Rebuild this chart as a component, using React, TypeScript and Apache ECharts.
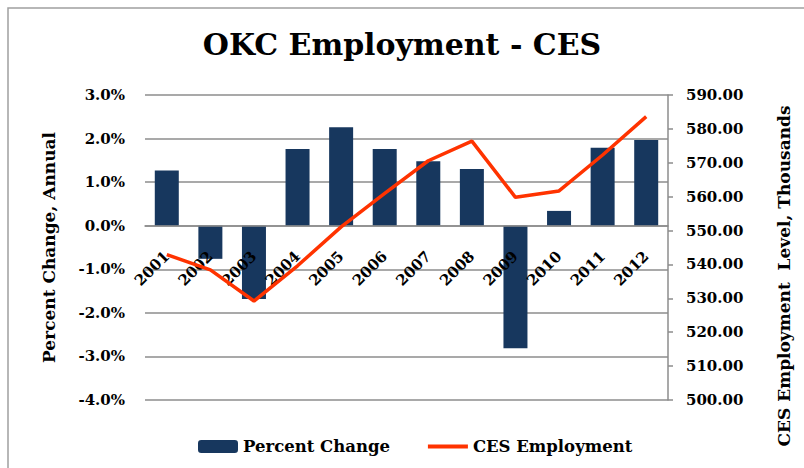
import React, { useEffect, useRef } from "react";
import * as echarts from "echarts";

const years = ["2001", "2002", "2003", "2004", "2005", "2006", "2007", "2008", "2009", "2010", "2011", "2012"];
const percentChange = [1.27, -0.76, -1.68, 1.76, 2.26, 1.76, 1.48, 1.3, -2.81, 0.34, 1.79, 1.97];
const cesEmployment = [542.9, 538.4, 529.2, 539.6, 551.1, 561.0, 570.6, 576.4, 559.8, 561.7, 572.3, 583.6];

const FONT = "DejaVu Serif";
const GRID_TOP = 95;
const GRID_BOTTOM = 68;
const PCT_MIN = -4;
const PCT_MAX = 3;

export default function App() {
  const ref = useRef<HTMLDivElement>(null);
  useEffect(() => {
    if (!ref.current) return;
    const chart = echarts.init(ref.current, null, { renderer: "svg" });
    const plotH = 468 - GRID_TOP - GRID_BOTTOM;
    const zeroOffset = -plotH * (0 - PCT_MIN) / (PCT_MAX - PCT_MIN);
    chart.setOption({
      animation: false,
      backgroundColor: "#ffffff",
      textStyle: { fontFamily: FONT },
      title: {
        text: "OKC Employment - CES",
        left: "center",
        top: 24,
        textStyle: { fontFamily: FONT, fontWeight: "bold", fontSize: 30, color: "#000" },
      },
      grid: { left: 145, right: 136, top: GRID_TOP, bottom: GRID_BOTTOM },
      legend: {
        left: 193,
        top: 433,
        itemWidth: 40,
        itemHeight: 13,
        itemGap: 36,
        textStyle: { fontFamily: FONT, fontWeight: "bold", fontSize: 16.5, color: "#000" },
        data: [
          { name: "Percent Change" },
          {
            name: "CES Employment",
            itemStyle: { color: "rgba(0,0,0,0)", borderWidth: 0 },
            lineStyle: { color: "#FF3300", width: 4 },
          },
        ],
      },
      graphic: [
        {
          type: "rect",
          shape: { x: 8, y: 8, width: 900, height: 600 },
          style: { fill: "none", stroke: "#a0a0a0", lineWidth: 1.5 },
          silent: true,
        },
        {
          type: "text",
          x: 784,
          y: 276,
          rotation: Math.PI / 2,
          style: {
            text: "CES Employment  Level, Thousands",
            fontFamily: FONT,
            fontWeight: "bold",
            fontSize: 17,
            fill: "#000",
            align: "center",
            verticalAlign: "middle",
          },
        },
      ],
      xAxis: {
        type: "category",
        data: years,
        offset: zeroOffset,
        z: 4,
        axisLine: { show: true, onZero: false, lineStyle: { color: "#8c8c8c", width: 1.5 } },
        axisTick: { show: false },
        axisLabel: {
          rotate: 45,
          margin: 28,
          fontFamily: FONT,
          fontWeight: "bold",
          fontSize: 15,
          color: "#000",
          interval: 0,
        },
      },
      yAxis: [
        {
          type: "value",
          min: PCT_MIN,
          max: PCT_MAX,
          interval: 1,
          name: "Percent Change, Annual",
          nameLocation: "middle",
          nameRotate: 90,
          nameGap: 88,
          nameTextStyle: { fontFamily: FONT, fontWeight: "bold", fontSize: 17, color: "#000" },
          axisLine: { show: false },
          axisTick: { show: false },
          axisLabel: {
            margin: 20,
            fontFamily: FONT,
            fontWeight: "bold",
            fontSize: 15,
            color: "#000",
            formatter: (v: number) => `${v.toFixed(1)}%`,
          },
          splitLine: { show: true, lineStyle: { color: "#8c8c8c", width: 1.5 } },
        },
        {
          type: "value",
          position: "right",
          min: 500,
          max: 590,
          interval: 10,
          axisLine: { show: true, onZero: false, lineStyle: { color: "#8c8c8c", width: 1.5 } },
          axisTick: { show: true, inside: false, length: 5, lineStyle: { color: "#8c8c8c", width: 1.5 } },
          axisLabel: {
            margin: 18,
            fontFamily: FONT,
            fontWeight: "bold",
            fontSize: 15,
            color: "#000",
            formatter: (v: number) => v.toFixed(2),
          },
          splitLine: { show: false },
        },
      ],
      series: [
        {
          name: "Percent Change",
          type: "bar",
          yAxisIndex: 0,
          data: percentChange,
          barWidth: 24,
          itemStyle: { color: "#17375E" },
          z: 2,
        },
        {
          name: "CES Employment",
          type: "line",
          yAxisIndex: 1,
          data: cesEmployment,
          symbol: "none",
          showSymbol: false,
          lineStyle: { color: "#FF3300", width: 3.5 },
          itemStyle: { color: "#FF3300" },
          z: 6,
        },
      ],
    });
    return () => chart.dispose();
  }, []);
  return <div ref={ref} style={{ width: 804, height: 468, position: "fixed", left: 0, top: 0 }} />;
}
